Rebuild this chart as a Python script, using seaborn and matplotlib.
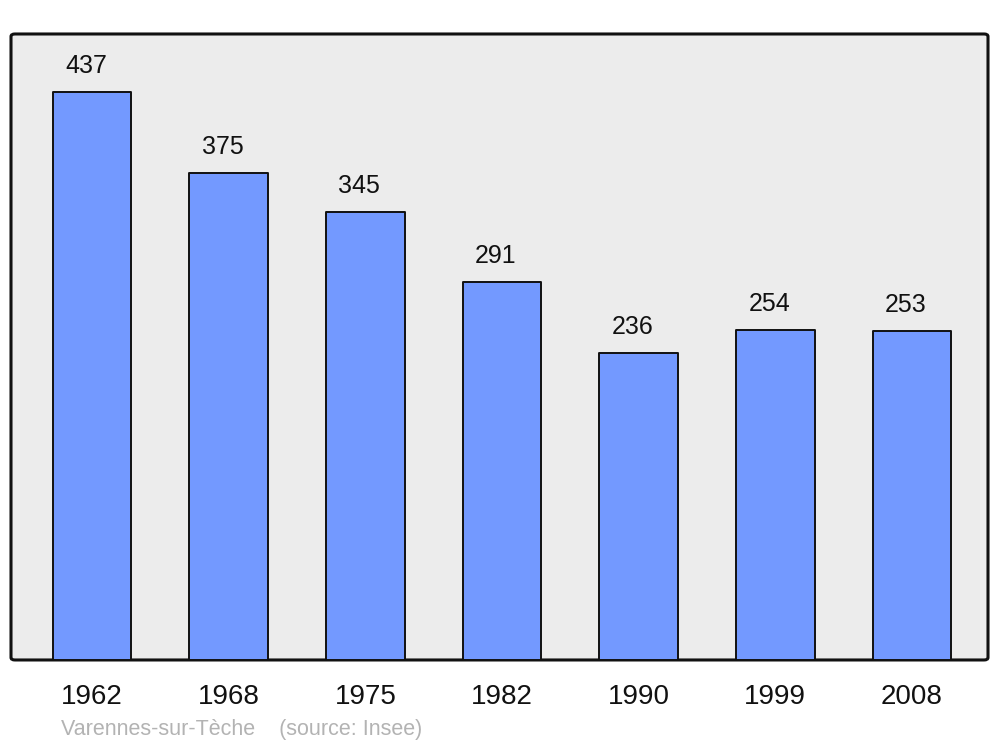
import matplotlib
matplotlib.use("Agg")
import matplotlib.pyplot as plt
import seaborn as sns
import pandas as pd
from matplotlib.patches import FancyBboxPatch

years = ["1962", "1968", "1975", "1982", "1990", "1999", "2008"]
population = [437, 375, 345, 291, 236, 254, 253]
source_text = "Varennes-sur-Tèche    (source: Insee)"

sns.set_theme(style="white")
plt.rcParams["font.family"] = ["Liberation Sans", "DejaVu Sans"]

df = pd.DataFrame({"year": years, "pop": population})

fig = plt.figure(figsize=(10, 7.47), dpi=100)
ax = fig.add_axes([0.011, 0.1165, 0.977, 0.838])
ax.set_facecolor("none")

# rounded background frame
frame = FancyBboxPatch((0, 0), 1, 1, boxstyle="round,pad=0,rounding_size=0.004",
                       transform=ax.transAxes, facecolor="#ececec", edgecolor="#111111",
                       linewidth=2.2, zorder=0, clip_on=False)
ax.add_patch(frame)

sns.barplot(data=df, x="year", y="pop", color="#7399ff", width=0.575,
            edgecolor="#111111", linewidth=1.4, saturation=1, ax=ax, zorder=2)
for p in ax.patches:
    if p is not frame:
        p.set_joinstyle("round")

for i, v in enumerate(population):
    ax.text(i - 0.045, v + 20, str(v), ha="center", va="center", fontsize=18, color="#111111")

ax.set_xlim(-0.593, 6.556)
ax.set_ylim(0, 481.6)
for s in ax.spines.values():
    s.set_visible(False)
ax.set_yticks([])
ax.set_xlabel("")
ax.set_ylabel("")
ax.tick_params(axis="x", length=0, pad=17, labelsize=20, labelcolor="#111111")
for lbl in ax.get_xticklabels():
    lbl.set_x(lbl.get_position()[0])

fig.text(0.061, 1 - 730 / 747, source_text, ha="left", va="center",
         fontsize=15.5, color="#b3b3b3")

fig.savefig("out.png", dpi=100)
